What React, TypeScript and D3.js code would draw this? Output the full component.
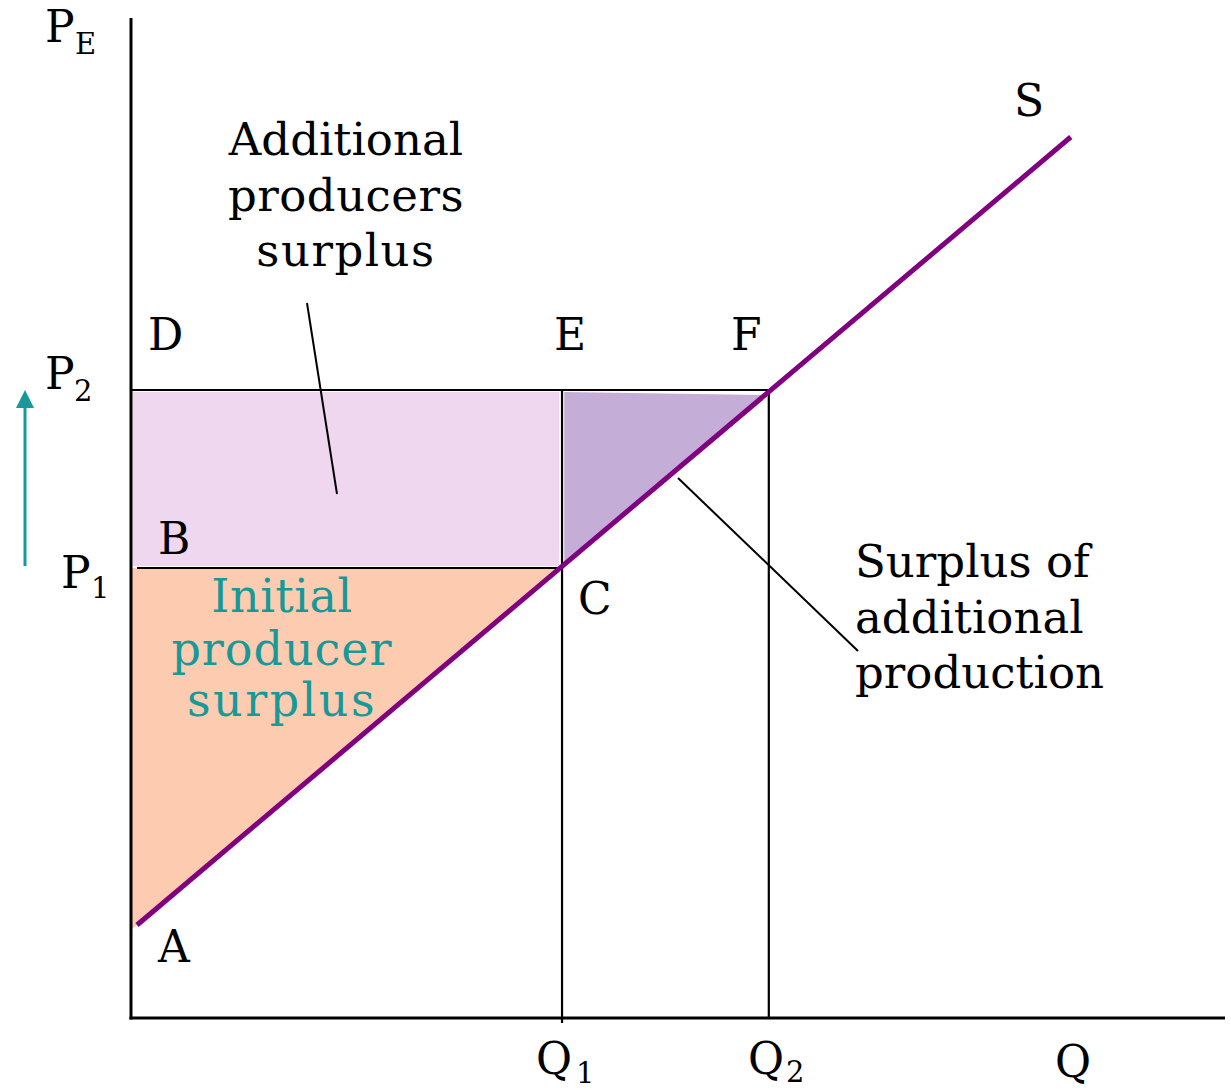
import React from "react";
import * as d3 from "d3";

const W = 1231;
const H = 1090;

// data (domain units: Q 0..100, P 0..100)
const qLabels = ["1", "2"];
const qValues = [39.4, 58.3];
const pLabels = ["1", "2"];
const pValues = [45.0, 62.8];
const supplyQ = [0.55, 85.9];
const supplyP = [9.3, 88.1];
const pointLabels = ["A", "B", "C", "D", "E", "F"];

const FONT = "'DejaVu Serif', 'Liberation Serif', serif";
const TEAL = "#17999a";

export default function App() {
  const x = d3.scaleLinear().domain([0, 100]).range([131, 1225]);
  const y = d3.scaleLinear().domain([0, 100]).range([1018, 18]);

  const slope = (supplyP[1] - supplyP[0]) / (supplyQ[1] - supplyQ[0]);
  const supply = (q: number) => supplyP[0] + slope * (q - supplyQ[0]);

  const [Q1, Q2] = qValues;
  const [P1, P2] = pValues;

  const line = d3
    .line<[number, number]>()
    .x((d) => x(d[0]))
    .y((d) => y(d[1]));

  const orange: [number, number][] = [
    [0, P1],
    [Q1, P1],
    [0, supply(0)],
  ];
  const pinkRect: [number, number][] = [
    [0.15, P2 - 0.2],
    [Q1 - 0.25, P2 - 0.2],
    [Q1 - 0.25, P1 + 0.2],
    [0.15, P1 + 0.2],
  ];
  const purpleTri: [number, number][] = [
    [Q1 + 0.2, P2 - 0.2],
    [Q2 - 0.4, P2 - 0.5],
    [Q1 + 0.2, supply(Q1 + 0.2)],
  ];

  const fs = 44;
  const sub = 29;

  const letter = (t: string, px: number, py: number, color = "#000") => (
    <text x={px} y={py} fontSize={fs} fill={color} fontFamily={FONT}>
      {t}
    </text>
  );

  return (
    <div style={{ position: "fixed", left: 0, top: 0 }}>
      <svg width={W} height={H} style={{ display: "block", background: "#fff" }}>
        {/* fills */}
        <path d={line(orange) + "Z"} fill="#fdcbaf" />
        <path d={line(pinkRect) + "Z"} fill="#efd8ef" />
        <path d={line(purpleTri) + "Z"} fill="#c4aed8" />

        {/* axes */}
        <line x1={x(0)} y1={y(100)} x2={x(0)} y2={y(0) + 1.5} stroke="#000" strokeWidth={3} />
        <line x1={x(0) - 1.5} y1={y(0)} x2={x(100)} y2={y(0)} stroke="#000" strokeWidth={3} />

        {/* price lines */}
        <line x1={x(0)} y1={y(P2)} x2={x(Q2)} y2={y(P2)} stroke="#000" strokeWidth={2.2} />
        <line x1={x(0.55)} y1={y(P1)} x2={x(Q1)} y2={y(P1)} stroke="#000" strokeWidth={2.2} />

        {/* quantity lines */}
        <line x1={x(Q1)} y1={y(P2)} x2={x(Q1)} y2={y(0) + 5} stroke="#000" strokeWidth={2.2} />
        <line x1={x(Q2)} y1={y(P2)} x2={x(Q2)} y2={y(0)} stroke="#000" strokeWidth={2.2} />

        {/* supply */}
        <path
          d={line([
            [supplyQ[0], supplyP[0]],
            [supplyQ[1], supplyP[1]],
          ]) as string}
          stroke="#800080"
          strokeWidth={5}
          fill="none"
        />

        {/* leader lines */}
        <line x1={307} y1={303} x2={337} y2={494} stroke="#000" strokeWidth={2} />
        <line x1={678} y1={478} x2={858} y2={651} stroke="#000" strokeWidth={2} />

        {/* teal arrow */}
        <line x1={25} y1={566} x2={25} y2={405} stroke={TEAL} strokeWidth={3} />
        <path d="M 16 408 L 25 390 L 34 408 Z" fill={TEAL} />

        {/* axis labels */}
        {letter("P", 45, 42)}
        <text x={75} y={54} fontSize={sub} fontFamily={FONT}>E</text>

        {letter("P", 45, 389)}
        <text x={74} y={401} fontSize={sub} fontFamily={FONT}>{pLabels[1]}</text>
        {letter("P", 61, 588)}
        <text x={91} y={598} fontSize={sub} fontFamily={FONT}>{pLabels[0]}</text>

        {letter("Q", 536, 1074)}
        <text x={576} y={1083} fontSize={sub} fontFamily={FONT}>{qLabels[0]}</text>
        {letter("Q", 748, 1074)}
        <text x={786} y={1082} fontSize={sub} fontFamily={FONT}>{qLabels[1]}</text>
        {letter("Q", 1055, 1077)}
        {letter("S", 1014, 116)}

        {/* point labels */}
        {letter(pointLabels[0], 158, 962)}
        {letter(pointLabels[1], 158, 554)}
        {letter(pointLabels[2], 578, 614)}
        {letter(pointLabels[3], 148, 350)}
        {letter(pointLabels[4], 554, 350)}
        {letter(pointLabels[5], 731, 350)}

        {/* annotations */}
        <text fontSize={45} fontFamily={FONT} textAnchor="middle">
          <tspan x={346} y={155}>Additional</tspan>
          <tspan x={346} y={211} letterSpacing={0.5}>producers</tspan>
          <tspan x={346} y={266} letterSpacing={1.5}>surplus</tspan>
        </text>
        <text fontSize={46} fontFamily={FONT} textAnchor="middle" fill={TEAL}>
          <tspan x={282} y={612} letterSpacing={0.5}>Initial</tspan>
          <tspan x={282} y={665} letterSpacing={1}>producer</tspan>
          <tspan x={282} y={716} letterSpacing={2.5}>surplus</tspan>
        </text>
        <text fontSize={45} fontFamily={FONT}>
          <tspan x={855} y={577}>Surplus of</tspan>
          <tspan x={855} y={633}>additional</tspan>
          <tspan x={855} y={688}>production</tspan>
        </text>
      </svg>
    </div>
  );
}
